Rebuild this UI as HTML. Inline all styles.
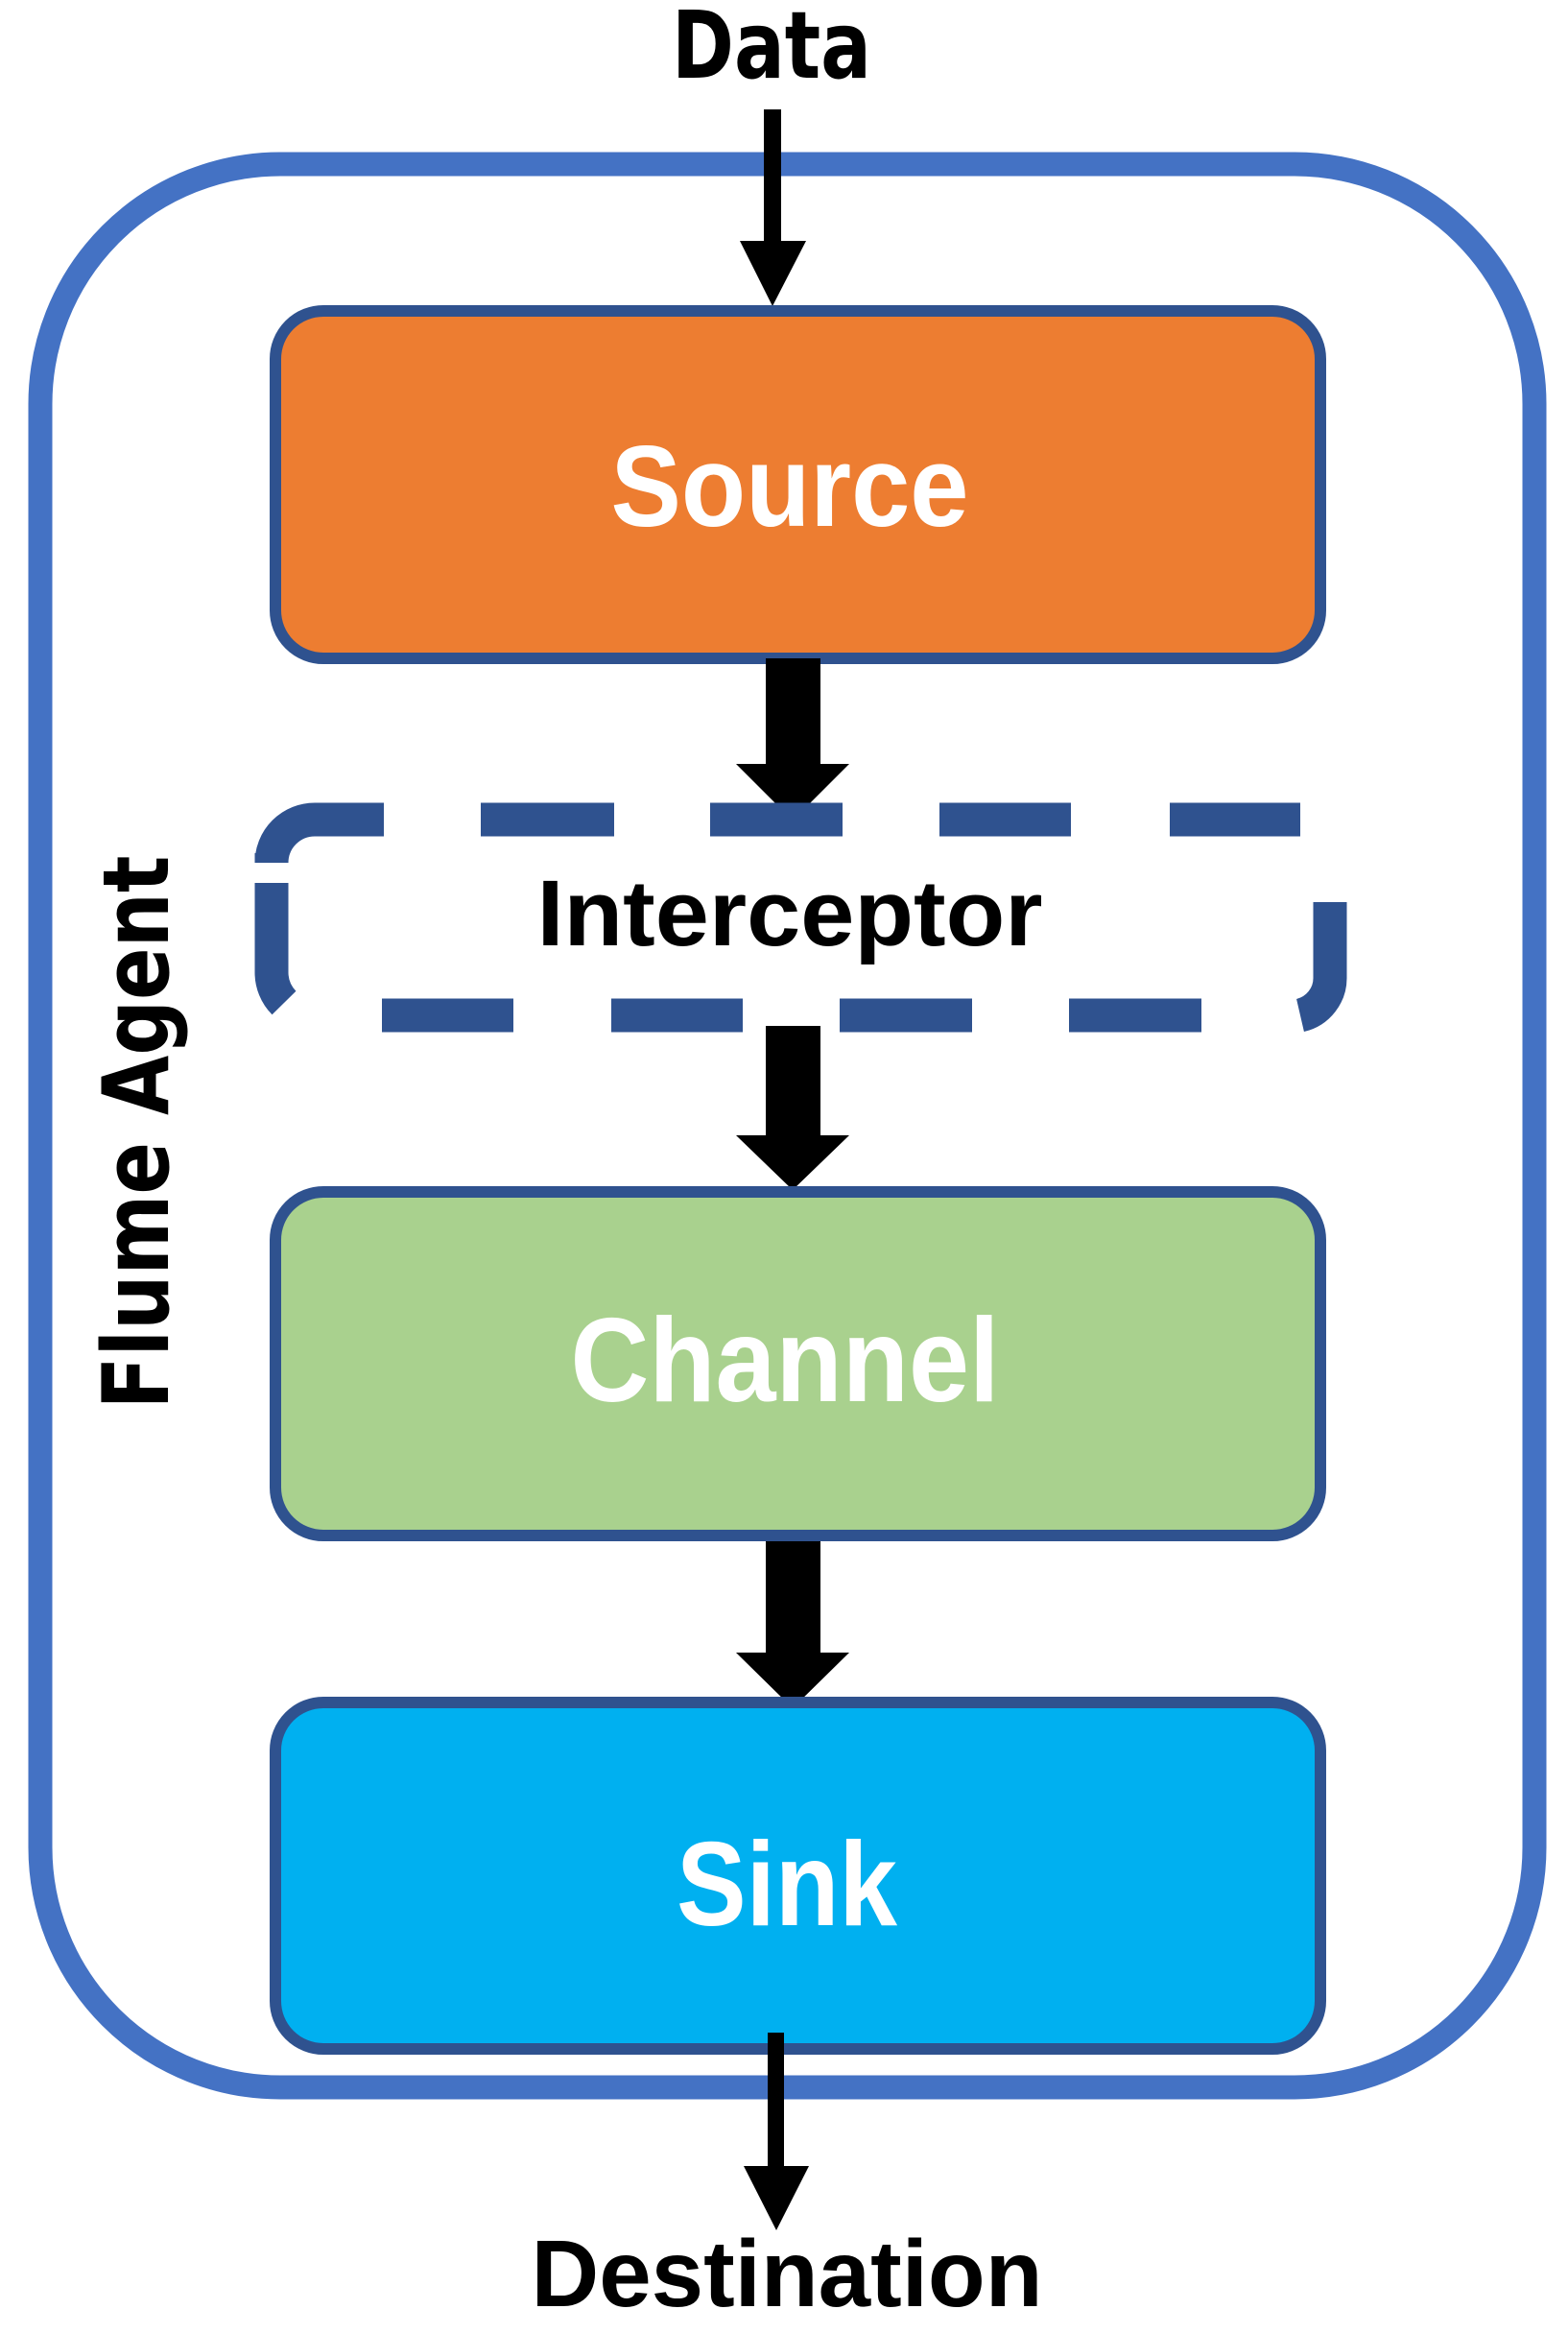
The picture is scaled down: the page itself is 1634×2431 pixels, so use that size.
<!DOCTYPE html>
<html><head><meta charset="utf-8"><style>html,body{margin:0;padding:0;background:#fff}svg{display:block}</style></head>
<body>
<svg width="1634" height="2431" viewBox="0 0 1634 2431" xmlns="http://www.w3.org/2000/svg">
<rect x="42" y="171" width="1557" height="2004" rx="250" ry="250" fill="#fff" stroke="#4472C4" stroke-width="25"/>
<!-- Data arrow -->
<text x="804" y="81" font-family="DejaVu Sans, sans-serif" font-weight="bold" font-size="97" text-anchor="middle" textLength="208" lengthAdjust="spacingAndGlyphs">Data</text>
<rect x="796" y="114" width="18" height="140" fill="#000"/>
<polygon points="771,251 840,251 805,319" fill="#000"/>
<!-- Source -->
<rect x="287" y="324" width="1089" height="362" rx="50" fill="#ED7D31" stroke="#2F528F" stroke-width="12"/>
<text x="823" y="548" font-family="Liberation Sans, sans-serif" font-weight="bold" font-size="120" fill="#fff" text-anchor="middle" textLength="373" lengthAdjust="spacingAndGlyphs">Source</text>
<!-- fat arrow 1 -->
<rect x="798" y="686" width="57" height="112" fill="#000"/>
<polygon points="767,796 885,796 826,855" fill="#000"/>
<!-- Interceptor dashed -->
<g fill="none" stroke="#2F528F" stroke-width="35" stroke-linecap="butt">
<path d="M283,889 L283,899 A45,45 0 0 1 328,854 L400,854"/>
<path d="M501,854 L640,854 M740,854 L878,854 M979,854 L1116,854 M1219,854 L1355,854"/>
<path d="M283,920 L283,1013 A45,45 0 0 0 296,1045"/>
<path d="M1386,940 L1386,1018 A40,40 0 0 1 1355,1058"/>
<path d="M398,1058 L535,1058 M637,1058 L774,1058 M875,1058 L1013,1058 M1114,1058 L1252,1058"/>
</g>
<text x="823" y="985" font-family="Liberation Sans, sans-serif" font-weight="bold" font-size="97" fill="#000" text-anchor="middle" textLength="527" lengthAdjust="spacingAndGlyphs">Interceptor</text>
<!-- fat arrow 2 -->
<rect x="798" y="1069" width="57" height="116" fill="#000"/>
<polygon points="767,1183 885,1183 826,1240" fill="#000"/>
<!-- Channel -->
<rect x="287" y="1242" width="1089" height="358" rx="50" fill="#A9D18E" stroke="#2F528F" stroke-width="12"/>
<text x="818" y="1460" font-family="Liberation Sans, sans-serif" font-weight="bold" font-size="124" fill="#fff" text-anchor="middle" textLength="447" lengthAdjust="spacingAndGlyphs">Channel</text>
<!-- fat arrow 3 -->
<rect x="798" y="1606" width="57" height="118" fill="#000"/>
<polygon points="767,1722 885,1722 826,1780" fill="#000"/>
<!-- Sink -->
<rect x="287" y="1774" width="1089" height="361" rx="50" fill="#00B0F0" stroke="#2F528F" stroke-width="12"/>
<text x="820" y="2006" font-family="Liberation Sans, sans-serif" font-weight="bold" font-size="124" fill="#fff" text-anchor="middle" textLength="230" lengthAdjust="spacingAndGlyphs">Sink</text>
<!-- destination arrow -->
<rect x="800" y="2118" width="17" height="142" fill="#000"/>
<polygon points="775,2257 843,2257 809,2324" fill="#000"/>
<text x="820" y="2403" font-family="Liberation Sans, sans-serif" font-weight="bold" font-size="98" fill="#000" text-anchor="middle" textLength="533" lengthAdjust="spacingAndGlyphs">Destination</text>
<!-- Flume Agent -->
<text transform="translate(175,1180) rotate(-90)" x="0" y="0" font-family="DejaVu Sans, sans-serif" font-weight="bold" font-size="95" fill="#000" text-anchor="middle" textLength="577" lengthAdjust="spacingAndGlyphs">Flume Agent</text>
</svg>
</body></html>
